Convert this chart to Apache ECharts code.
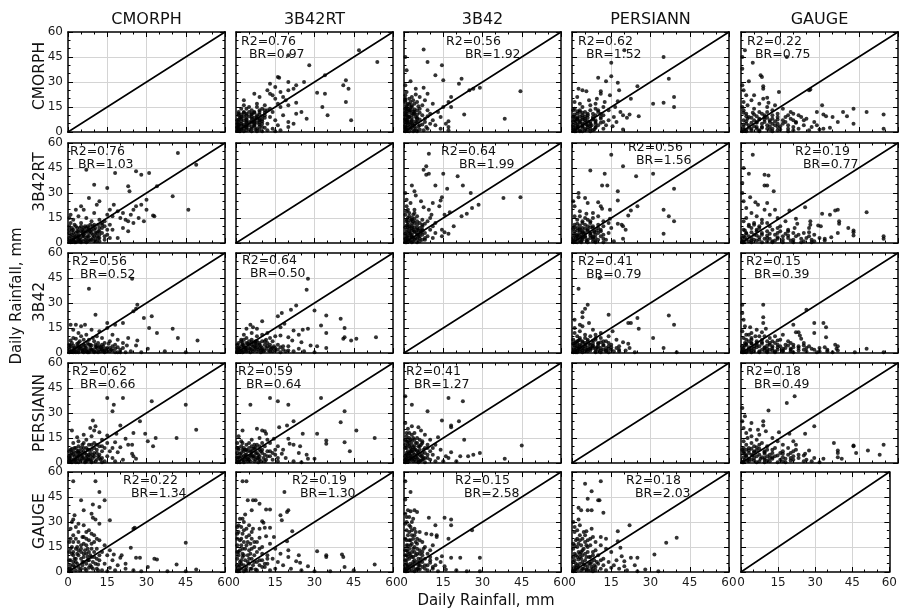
<!DOCTYPE html>
<html><head><meta charset="utf-8">
<script src="https://cdn.jsdelivr.net/npm/echarts@6/dist/echarts.min.js"></script>
<style>html,body{margin:0;padding:0;background:#fff}#c{width:900px;height:609px}</style>
</head><body><div id="c"></div>
<script>
// ---------------- DATA ----------------
const products = ['CMORPH', '3B42RT', '3B42', 'PERSIANN', 'GAUGE'];
const axisMin = 0, axisMax = 60, axisStep = 15;
const oneToOne = [[0, 0], [60, 60]];
const xAxisTitle = 'Daily Rainfall, mm';
const yAxisTitle = 'Daily Rainfall, mm';

// pair data: [first product value, second product value]
const pairCM_RT = [[42,54],[49,47],[7,44],[18,42],[26,43],[28,41],[31,42],[10,35],[15,33],[23,34],[23.5,31],[34,34],[40,28],[46,20],[33,16],[32.5,16.5],[30,26],[28,23],[26,22],[25,20],[17.5,23],[12,25],[11,23],[5,22],[3,20],[8,27],[17,16],[20,15],[22,14],[23,13],[25,12],[14,10],[17,8],[19,3],[13,12],[15,17],[16,20],[19,19],[21,18],[24,17],[27,15],[29,13],[21,9],[23,7],[12,5],[10,18],[7,15],[9,13],[4,16],[2,14],[6,20],[5,12],[30,20],[1,1],[2,3],[3,1],[4,5],[5,2],[6,7],[7,3],[8,6],[9,2],[10,8],[11,4],[12,9],[0.5,6],[1.5,9],[2.5,11],[3.5,7],[4.5,9],[5.5,4],[6.5,10],[7.5,1],[8.5,11],[9.5,5],[10.5,2],[11.5,7],[0.5,3],[1,12],[2,6],[3,4],[4,2],[5,7],[6,1],[7,9],[8,4],[9,8],[10,11],[11,1],[12,3],[13,6],[14,4],[15,8],[16,11],[14,13],[12,14],[1,0.5],[3,0.5],[5,0.5],[7,0.5],[2,2],[4,4],[6,5],[8,9],[0.5,15],[1,17],
  [0.5,1.5],[1.5,2],[2.5,0.5],[3.5,3],[4.5,1],[5.5,6],[6.5,2],[7.5,4],[8.5,1.5],[9.5,3],[10.5,6],[11.5,3],[0.5,8],[1.5,5],[2.5,4],[3.5,9],[4.5,3],[5.5,8],[6.5,6],[7.5,10],[8.5,7],[9.5,10],[10.5,9],[11.5,11],[1,4],[2,8],[3,6],[4,7],[5,10],[6,4],[7,7],[8,2],[9,6],[10,4],[11,6],[12,1],[13,9],[14,2],[13,11],[15,5],[16,3],[1.5,7.5],[3,10],[2,1],[6,9],[8,8],[10,1],[12,7],[4,1],[0.5,10]];
const pairCM_B42 = [[24.5,44.5],[8,38.5],[10.5,23],[26.5,29],[26,26.5],[25,25],[32,22],[29,21],[31,15],[34,12],[40,14.5],[42,9],[49.5,7.5],[21,18],[18,17],[15,18],[15,15],[12,13],[26.5,7.5],[26,4.5],[30.5,2.5],[22.5,4.5],[37,1],[45,0.5],[1,17],[3,17],[5,16],[6.5,17],[2,14],[4,12],[7,11],[9,14],[11,10],[13,9],[17,11],[19,8],[21,6],[23,9],[18,5],[16,3],[14,6],[20,2],[24,1],[28,0.5],[12,4],[10,7],[8,5],[6,8],[4,6],[2,9],[1,4],[3,2],[5,3],[7,1],[9,2],[11,1],[13,2],[15,1],[17,1.5],[19,0.5],[0.5,2],[1.5,6],[2.5,1],[3.5,4],[4.5,7],[5.5,1.5],[6.5,4.5],[7.5,6],[8.5,3],[9.5,9],[10.5,3.5],[11.5,6],[12.5,1],[13.5,4],[14.5,2.5],[16,7],[0.5,0.5],[2,0.5],[4,0.5],[6,0.5],[8,0.5],[10,0.5],[14,0.5],[22,0.5],
  [1,1],[2,2.5],[3,0.5],[4,1.5],[5,4],[6,2],[7,3],[8,1.5],[9,4.5],[10,1],[11,3],[12,2],[13,5],[14,1.5],[15,3],[16,1],[17,4],[18,2.5],[19,3.5],[20,0.5],[21,3],[0.5,3.5],[1.5,1],[2.5,3],[3.5,5.5],[4.5,2.5],[5.5,1],[6.5,3],[7.5,0.5],[8.5,5],[9.5,2],[10.5,5],[11.5,0.5],[12.5,3.5],[13.5,1],[15.5,5.5],[16.5,2],[18,0.5],[0.5,5],[2,4.5],[4,3.5],[6,5],[7,1],[9,1.5],[11,4],[13,2.5],[1,7.5],[3,8.5],[5,10],[8,8]];
const pairCM_PER = [[15,39],[17.5,35],[17,31],[21,39],[32,37],[45,35],[49,20],[41.5,15],[33.5,15],[30.5,13],[32.5,10],[29.5,17.5],[27.5,25],[25,18],[23,11],[24.5,11],[20,22.5],[18.5,17.5],[22,14.5],[9.5,25.5],[10.5,22],[8.5,21],[10,19.5],[1.5,19.5],[3.5,15.5],[12,18.5],[15,16.5],[18,12.5],[20,9.5],[19,6.5],[24.5,5.5],[25,4],[26,2.5],[6,17],[4,13],[7,14],[9,16],[13,14],[15,12],[17,9],[12,10],[10,12],[8,11],[6,9],[4,10],[2,12],[1,8],[3,6],[5,7],[7,5],[9,8],[11,6],[13,7],[15,4],[17,3],[21,2],[14,1],[12,3],[10,4],[8,2],[6,3],[4,4],[2,2],[1,1],[3,0.5],[5,1.5],[7,1],[9,0.5],[11,2],[0.5,4],[1.5,6],[2.5,9],[3.5,2.5],[4.5,5.5],[5.5,11],[6.5,0.5],[7.5,8],[8.5,6],[0.5,1],[16,7],[13,0.5],[18,1],
  [0.5,1.5],[1.5,0.5],[2.5,1.5],[3.5,4],[4.5,2],[5.5,3],[6.5,1.5],[7.5,4],[8.5,2],[9.5,3],[10.5,1],[11.5,4],[12.5,2],[1,3],[2,5],[3,2],[4,6],[5,4],[6,7],[7,3],[8,5],[9,1],[10,6],[11,8],[12,5],[13,3],[14,9],[1,5],[2,7],[3,9],[4,7.5],[5,9],[6,12],[7,9],[8,8],[9,11],[10,9],[11,11],[13,10],[0.5,7],[1.5,8.5],[2.5,4],[3.5,7],[5.5,5],[6.5,6],[7.5,2],[8.5,4],[9.5,5],[0.5,3],[4,0.5]];
const pairCM_G = [[2,54.5],[10.5,54.5],[12,48],[5,43],[9.5,40.5],[14,43],[12,39],[6,37],[2.5,34],[2,31.5],[1.5,30],[9,35],[9.5,32.5],[10.5,31.5],[12,29],[16,31],[25.5,26.5],[25,26],[45,17.5],[24,14.5],[20.5,10],[20,8.5],[26,8.5],[27.5,8.5],[33,8],[34,7.5],[30.5,3],[41.5,4.5],[49,1.5],[17.5,10.5],[16,13],[14,16],[12,19],[10,22],[8,25],[6,28],[4,24],[3,20],[1,26],[2,18],[5,16],[7,20],[9,17],[11,14],[13,12],[15,10],[17,7],[19,4],[22,2],[25,1],[28,0.5],[14,5],[12,7],[10,9],[8,12],[6,11],[4,13],[2,10],[1,14],[3,6],[5,8],[7,5],[9,3],[11,2],[13,1],[15,0.5],[16,2.5],[18,1],[1,2],[2,4],[3,1],[4,3],[5,2],[6,6],[7,1],[8,2.5],[0.5,7],[0.5,18],[0.5,0.5],[1.5,11],[3.5,15],[5.5,21],[7.5,14],[9.5,6],[11.5,4.5],[38,0.5],[45,0.5],[22,5],
  [0.5,2],[1.5,1],[2.5,3],[3.5,5],[4.5,1],[5.5,4],[6.5,2],[7.5,7],[8.5,4],[9.5,2],[10.5,5],[11.5,1],[1,4],[2,6],[3,8],[4,10],[5,12],[6,9],[7,11],[8,7],[9,9],[10,12],[11,8],[12,10],[1,7],[2,12],[3,14],[4,18],[5,14],[6,17],[7,16],[8,19],[9,14],[10,18],[11,20],[1,20],[2,22],[3,27],[4,29],[6,21],[7,24],[9,23],[0.5,12],[1.5,15],[2.5,8],[3.5,11],[5.5,6],[6.5,13],[7.5,9],[8.5,10]];
const pairRT_B42 = [[27.5,44.5],[27,38],[30,25.5],[34.5,22.5],[40,20.5],[32.5,16.5],[41.5,15],[34.5,12],[41.5,9.5],[41,8.5],[46,8.5],[53.5,9.5],[44,7.5],[25.5,14],[27.5,14.5],[31,4],[34.5,3],[28.5,4.5],[23,28.5],[21,26],[17.5,24],[16,22],[18.5,17.5],[17,15.5],[10,19],[5.5,17],[6.5,15.5],[8,14.5],[4,14.5],[22,13.5],[24,11],[20,9.5],[21.5,7.5],[25,6.5],[17,10.5],[13,9],[14,7],[12,12],[10,11],[8,10],[6,12],[3,11],[2,8],[4,6],[6,8],[8,5],[10,7],[12,4],[14,3],[16,5],[18,2],[20,4],[22,1],[24,2.5],[1,2],[2,4],[3,1],[4,3],[5,5],[6,2],[7,4],[8,1],[9,3],[10,2],[11,5],[13,1],[15,1.5],[17,0.5],[19,1],[0.5,5],[1.5,1],[2.5,6],[3.5,2],[5.5,0.5],[7.5,7],[9.5,0.5],[11.5,8],[0.5,0.5],[26,1],[30,0.5],[15,10],[7,6.5],[3,3.5],
  [0.5,1],[1.5,2.5],[2.5,0.5],[3.5,3],[4.5,1.5],[5.5,2.5],[6.5,1],[7.5,3],[8.5,2],[9.5,4],[10.5,1],[11.5,3],[12.5,1.5],[13.5,2.5],[14.5,4],[1,3.5],[2,1.5],[3,4.5],[4,1],[5,3],[6,5],[7,2],[8,3.5],[9,5],[10,3],[11,1.5],[12,6],[13,3.5],[14,1],[15,3],[16,2],[17,3.5],[1,6],[2,7],[3,8],[4,9],[5,7],[6,6.5],[8,7],[9,6],[11,7],[13,5],[0.5,3],[2.5,5],[4.5,5.5],[6.5,4],[7.5,5.5],[9.5,1.5],[18,4],[20,1.5]];
const pairRT_PER = [[5.5,35],[13,39],[16,37],[20,35],[32.5,39],[41.5,31],[40,24.5],[46,19.5],[53,15],[41.5,12.5],[43.5,7],[34.5,13.5],[34.5,11.5],[31,17.5],[25.5,17.5],[22,25],[16.5,21.5],[19.5,22.5],[2.5,19.5],[8,20.5],[10,19.5],[11,19],[11.5,17.5],[14.5,14.5],[20,14.5],[20.5,11.5],[22,11],[24.5,10],[27,5],[27.5,2.5],[30,2.5],[17.5,5.5],[18,8],[16,10],[13,12],[9,15],[6,14],[4,11],[2,13],[1,9],[3,7],[5,9],[7,11],[9,8],[11,10],[13,7],[15,5],[12,4],[10,6],[8,3],[6,5],[4,2],[2,4],[1,1],[3,0.5],[5,2],[7,1],[9,2],[11,1],[14,2],[16,1],[19,3],[22,1],[25,0.5],[0.5,6],[1.5,3],[2.5,8],[3.5,5],[4.5,1],[5.5,7],[6.5,3],[7.5,6],[8.5,0.5],[0.5,0.5],[0.5,12],[1,16],[12,14],[24,6],
  [0.5,2],[1.5,0.5],[2.5,2],[3.5,3.5],[4.5,2.5],[5.5,1],[6.5,4],[7.5,2],[8.5,3],[9.5,1],[10.5,3],[11.5,2],[1,3.5],[2,6],[3,4],[4,5],[5,3.5],[6,7],[7,4],[8,6],[9,4],[10,8],[11,5],[12,7],[13,4],[14,6],[1,8],[2,10],[3,9],[4,8],[5,12],[6,10],[7,8.5],[8,11],[9,10],[10,12],[0.5,9],[1.5,5.5],[2.5,12],[3.5,8],[4.5,7],[5.5,4.5],[6.5,8.5],[7.5,9.5],[8.5,5],[9.5,7],[15,8],[16,3],[0.5,3.5],[3,1.5]];
const pairRT_G = [[2.5,54.5],[4,54.5],[18.5,48],[4.5,43],[6.5,43],[7.5,43],[9,41],[6,37],[11.5,37.5],[13,37.5],[19.5,36],[20,37],[3.5,34.5],[2.5,32],[17,34],[17.5,31],[10,30.5],[10.5,29.5],[6.5,26],[9,26],[11,26.5],[13,26.5],[21.5,24.5],[11.5,21.5],[14.5,21],[19.5,18.5],[9,20.5],[34.5,9],[34.5,10],[40.5,10.5],[41,9],[41.5,3],[53,4.5],[31,12.5],[24,10],[23,6.5],[24.5,5.5],[27.5,3.5],[17,11],[20,9],[15,14],[13,17],[7,18],[5,22],[3,25],[1,28],[2,20],[4,16],[6,14],[8,12],[10,15],[12,10],[14,8],[16,6],[18,4],[21,2],[25,1],[30,0.5],[1,12],[3,10],[5,8],[7,6],[9,4],[11,3],[13,1],[2,5],[4,3],[6,2],[8,1],[1,1],[3,0.5],[0.5,8],[0.5,16],[0.5,23],[1.5,4],[2.5,14],[3.5,1.5],[4.5,6],[5.5,11],[0.5,0.5],[10,7],[12,5],[36,0.5],[45,1],[15,2],[20,13],
  [0.5,1],[1,3],[1.5,6],[2,2],[2.5,9],[3,4],[3.5,7],[4,1],[4.5,10],[5,5],[5.5,2],[6,8],[6.5,4],[7,10],[7.5,1.5],[8,6],[0.5,4],[1,10],[1.5,13],[2,16],[2.5,11],[3,18],[3.5,14],[4,21],[4.5,18],[5,13],[5.5,17],[6,20],[7,15],[8,18],[0.5,20],[1,24],[1.5,19],[2,27],[2.5,23],[3,30],[4,26],[5,28],[6,24],[0.5,27],[1.5,32],[9,7],[10,11],[11,5],[12,8],[9,14],[10,3],[0.5,12],[1,0.5],[2,7]];
const pairB42_PER = [[17,39],[22.5,37],[9,31],[3,35],[0.5,40],[14.5,25.5],[21,25],[18,22.5],[18,21.5],[13,15.5],[23,14],[45,10.5],[38.5,2.5],[29,6],[26.5,5],[24.5,4],[21.5,4],[18,6.5],[17,3],[5.5,21.5],[6.5,19.5],[1.5,20.5],[4,18],[8,17],[10,14],[12,11],[14,8],[11,5],[13,3],[15,1],[9,9],[7,12],[5,15],[3,13],[1,16],[2,10],[4,8],[6,10],[8,6],[10,7],[9,3],[7,2],[5,5],[3,4],[1,6],[2,1],[4,2],[6,1],[8,0.5],[0.5,2],[1.5,11],[2.5,7],[3.5,1],[4.5,12],[5.5,6.5],[6.5,4],[7.5,8],[0.5,9],[1,13],[2,18],[3,22],[0.5,24],[1.5,4],[2.5,2.5],[3.5,9.5],[4.5,3.5],[5.5,0.5],[0.5,0.5],[1,3],[2,5.5],[3,7],[12,1],[16,4],[20,1],
  [0.5,1.5],[1,2],[1.5,1],[2,3],[2.5,4.5],[3,2],[3.5,3],[4,5],[4.5,1],[5,3],[5.5,2],[6,5],[6.5,1.5],[7,4],[7.5,2.5],[8,3],[0.5,4],[1,5],[1.5,7],[2,6],[2.5,9],[3,8],[3.5,6],[4,10],[4.5,8],[5,7],[5.5,10],[6,8],[6.5,11],[7,6],[8,9],[0.5,11],[1,9],[1.5,13],[2,12],[2.5,14],[3,11],[3.5,15],[4,14],[5,12],[6,14],[7,13],[0.5,14],[1,18],[2,15],[3,17],[9,5],[10,2],[9,11],[11,9]];
const pairB42_G = [[0.5,54.5],[2.5,48],[0.5,43.5],[1.5,37],[2.5,36.5],[4,37],[5,36],[9.5,32.5],[15.5,32.5],[18,31.5],[18,28],[12,28],[8.5,23],[10.5,22.5],[12.5,22],[12.5,21],[17,20],[26,25],[29,8.5],[21.5,8.5],[18,8.5],[14.5,9.5],[12.5,8],[10,5.5],[15.5,3.5],[29,0.5],[20,1],[24,0.5],[1,33],[3,30],[2,28],[1,25],[4,26],[6,24],[3,22],[5,20],[7,18],[2,19],[1,16],[4,15],[6,13],[8,15],[10,13],[9,11],[7,10],[5,11],[3,12],[1,10],[2,8],[4,7],[6,6],[8,8],[10,9],[12,4],[11,2],[9,1],[7,3],[5,2],[3,4],[1,5],[2,1],[4,0.5],[6,1.5],[8,4],[0.5,2],[0.5,7],[0.5,13],[0.5,20],[0.5,29],[1.5,3],[1.5,12],[2.5,16],[3.5,6],[3.5,9],[4.5,18],[5.5,4],[6.5,8],[7.5,14],[0.5,0.5],[1,0.5],[13,0.5],[16,1.5],[14,6],[11,16],
  [0.5,1],[1,2],[1.5,4],[2,3],[2.5,5],[3,1],[3.5,3],[4,5],[4.5,1.5],[5,6],[5.5,2],[6,4],[7,6],[8,2],[0.5,4],[1,7],[1.5,9],[2,11],[2.5,10],[3,9],[3.5,14],[4,12],[4.5,10],[5,14],[5.5,8],[6,11],[7,12],[0.5,10],[1,13],[1.5,16],[2,14],[2.5,19],[3,17],[3.5,20],[4,22],[4.5,24],[5,17],[6,19],[1,19],[1.5,22],[2,24],[2.5,27],[3,25],[3.5,32],[1,30],[2,33],[0.5,35],[9,4],[10,7],[11,3]];
const pairPER_G = [[5,53],[11,54.5],[7.5,48.5],[6,44],[10,43],[10.5,43],[12,35.5],[2.5,38.5],[3.5,37],[6,37],[7.5,37],[2.5,31.5],[3,28],[5.5,24.5],[7.5,26],[11,21],[13,20],[17.5,24.5],[22,28],[17.5,18.5],[18.5,14.5],[22.5,8.5],[25,8.5],[19,9.5],[20,6.5],[31.5,10.5],[36,17.5],[40,20.5],[15,12],[13,14],[11,16],[9,18],[7,20],[5,22],[3,19],[1,24],[2,15],[4,13],[6,15],[8,12],[10,10],[12,8],[14,6],[16,4],[18,2],[21,1],[25,0.5],[28,1.5],[33,0.5],[1,11],[3,9],[5,7],[7,5],[9,3],[11,2],[13,1],[2,4],[4,2],[6,1],[8,0.5],[1,1],[0.5,6],[0.5,17],[0.5,30],[1.5,2.5],[2.5,7.5],[3.5,12],[4.5,4.5],[5.5,16],[6.5,9],[7.5,3],[8.5,7],[9.5,6],[0.5,0.5],[12,4],[15,2.5],[17,7],[20,3.5],[24,4],
  [0.5,1],[1,3],[1.5,5],[2,1.5],[2.5,3],[3,5],[3.5,1],[4,6],[4.5,2],[5,4],[5.5,1.5],[6,3],[6.5,5],[7,1],[7.5,6],[8,2],[8.5,4],[9,1],[10,5],[0.5,9],[1,7],[1.5,10],[2,9],[2.5,12],[3,11],[3.5,8],[4,10],[4.5,14],[5,11],[5.5,9],[6,12],[7,9],[8,10],[9,13],[0.5,14],[1,16],[1.5,19],[2,20],[2.5,17],[3,22],[3.5,16],[4,20],[4.5,24],[5,18],[6,19],[7,16],[8,21],[1,27],[2,25],[11,7]];

// statistics text per panel [row][col]
const r2Grid = [
  [null, '0.76', '0.56', '0.62', '0.22'],
  ['0.76', null, '0.64', '0.56', '0.19'],
  ['0.56', '0.64', null, '0.41', '0.15'],
  ['0.62', '0.59', '0.41', null, '0.18'],
  ['0.22', '0.19', '0.15', '0.18', null]
];
const brGrid = [
  [null, '0.97', '1.92', '1.52', '0.75'],
  ['1.03', null, '1.99', '1.56', '0.77'],
  ['0.52', '0.50', null, '0.79', '0.39'],
  ['0.66', '0.64', '1.27', null, '0.49'],
  ['1.34', '1.30', '2.58', '2.03', null]
];

// ---------------- LAYOUT ----------------
const colLeft = [68, 236, 404, 572, 741];
const rowTop = [32, 143, 253, 363, 472];
const PW = 157, PH = 100;
const rowLabelY = [76, 182, 302, 413, 521];
// annotation anchor [x of R2 text, y middle of R2 text, extra indent of BR]
const notePos = [
  [null, [241,42,8], [446,42,19], [578,42,8], [747,42,8]],
  [[70,152,8], null, [441,152,18], [628,148,8], [795,152,8]],
  [[72,262,8], [242,261,8], null, [578,262,8], [746,262,8]],
  [[72,372,8], [238,372,8], [406,372,8], null, [746,372,8]],
  [[123,481,8], [292,481,8], [455,481,9], [626,481,9], null]
];

const FONT = '"DejaVu Sans", Verdana, sans-serif';
const pairs = {
  '0-1': pairCM_RT, '0-2': pairCM_B42, '0-3': pairCM_PER, '0-4': pairCM_G,
  '1-2': pairRT_B42, '1-3': pairRT_PER, '1-4': pairRT_G,
  '2-3': pairB42_PER, '2-4': pairB42_G, '3-4': pairPER_G
};
function panelData(r, c) {
  if (r === c) return null;
  if (r > c) return pairs[c + '-' + r];           // x = column product, y = row product
  return pairs[r + '-' + c].map(p => [p[1], p[0]]); // swap
}

const grids = [], xAxes = [], yAxes = [], lineSeries = [], dotSeries = [], graphics = [];
const tickStyle = { show: true, inside: true, length: 5, lineStyle: { color: '#000', width: 1 } };
const minorStyle = { show: true, splitNumber: 3, length: 2.5, lineStyle: { color: '#000', width: 1 } };
const lineStyleAxis = { show: true, onZero: false, lineStyle: { color: '#000', width: 1.5 } };
const labelStyle = { fontSize: 12, color: '#1a1a1a', fontFamily: FONT, margin: 5, showMinLabel: true, showMaxLabel: true };

for (let r = 0; r < 5; r++) {
  for (let c = 0; c < 5; c++) {
    const k = r * 5 + c;
    grids.push({ left: colLeft[c], top: rowTop[r], width: PW, height: PH, containLabel: false });
    const common = { gridIndex: k, type: 'value', min: axisMin, max: axisMax, interval: axisStep };
    xAxes.push(Object.assign({}, common, {
      position: 'bottom', axisLine: lineStyleAxis, axisTick: tickStyle, minorTick: minorStyle,
      splitLine: { show: true, showMinLine: false, showMaxLine: false, lineStyle: { color: '#d4d4d4', width: 1 } },
      axisLabel: Object.assign({ show: r === 4 }, labelStyle)
    }));
    xAxes.push(Object.assign({}, common, {
      position: 'top', axisLine: lineStyleAxis, axisTick: tickStyle, minorTick: minorStyle,
      splitLine: { show: false }, axisLabel: { show: false }
    }));
    yAxes.push(Object.assign({}, common, {
      position: 'left', axisLine: lineStyleAxis, axisTick: tickStyle, minorTick: minorStyle,
      splitLine: { show: true, showMinLine: false, showMaxLine: false, lineStyle: { color: '#d4d4d4', width: 1 } },
      axisLabel: Object.assign({ show: c === 0 }, labelStyle)
    }));
    yAxes.push(Object.assign({}, common, {
      position: 'right', axisLine: lineStyleAxis, axisTick: tickStyle, minorTick: minorStyle,
      splitLine: { show: false }, axisLabel: { show: false }
    }));
    lineSeries.push({
      type: 'line', xAxisIndex: 2 * k, yAxisIndex: 2 * k, data: oneToOne.map(p => p.slice()),
      showSymbol: false, symbol: 'none', silent: true, animation: false, clip: false,
      lineStyle: { color: '#000', width: 1.6, cap: 'round' }, z: 3
    });
    const d = panelData(r, c);
    if (d) {
      dotSeries.push({
        type: 'scatter', xAxisIndex: 2 * k, yAxisIndex: 2 * k, data: d,
        symbol: 'circle', symbolSize: 4, silent: true, animation: false,
        itemStyle: { color: '#000' }, z: 2
      });
      const np = notePos[r][c];
      graphics.push({ type: 'text', x: np[0], y: np[1], z: 10,
        style: { text: 'R2=' + r2Grid[r][c], fill: '#111', font: '12.5px ' + FONT, align: 'left', verticalAlign: 'middle' } });
      graphics.push({ type: 'text', x: np[0] + np[2], y: np[1] + 12.5, z: 10,
        style: { text: 'BR=' + brGrid[r][c], fill: '#111', font: '12.5px ' + FONT, align: 'left', verticalAlign: 'middle' } });
    }
  }
}
for (let i = 0; i < 5; i++) {
  graphics.push({ type: 'text', x: colLeft[i] + PW / 2, y: 20,
    style: { text: products[i], fill: '#111', font: '16px ' + FONT, align: 'center', verticalAlign: 'middle' } });
  graphics.push({ type: 'text', x: 40, y: rowLabelY[i], rotation: Math.PI / 2,
    style: { text: products[i], fill: '#111', font: '15.5px ' + FONT, align: 'center', verticalAlign: 'middle' } });
}
graphics.push({ type: 'text', x: 486, y: 601,
  style: { text: xAxisTitle, fill: '#111', font: '15px ' + FONT, align: 'center', verticalAlign: 'middle' } });
graphics.push({ type: 'text', x: 17, y: 296, rotation: Math.PI / 2,
  style: { text: yAxisTitle, fill: '#111', font: '15px ' + FONT, align: 'center', verticalAlign: 'middle' } });

const chart = echarts.init(document.getElementById('c'), null, { renderer: 'canvas' });
chart.setOption({
  backgroundColor: '#fff',
  animation: false,
  grid: grids, xAxis: xAxes, yAxis: yAxes, series: dotSeries.concat(lineSeries),
  graphic: { elements: graphics }
});
</script>
</body></html>
